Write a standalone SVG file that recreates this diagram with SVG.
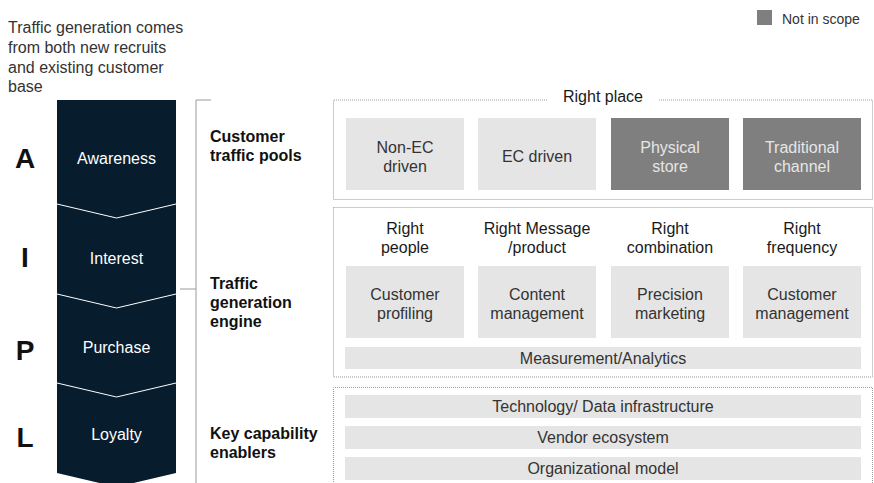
<svg xmlns="http://www.w3.org/2000/svg" width="874" height="483" viewBox="0 0 874 483">
<style>
text{font-family:"Liberation Sans",Arial,sans-serif;font-size:16px}
.note{fill:#333}
.big{font-size:28px;font-weight:bold;fill:#111;text-anchor:middle}
.stage{fill:#fff;text-anchor:middle}
.sec{font-weight:bold;fill:#111}
.frame{fill:none;stroke:#9a9a9a;stroke-width:1;stroke-dasharray:1 1}
.lt{fill:#e5e5e5}
.dk{fill:#7f7f7f}
.lt-t{fill:#333;text-anchor:middle}
.dk-t{fill:#e6e6e6;text-anchor:middle}
.hd{fill:#1a1a1a;text-anchor:middle}
.br{fill:none;stroke:#9a9a9a;stroke-width:1}
</style>

<g id="legend">
<rect x="757" y="10" width="15" height="15" class="dk"/>
<text x="782" y="24" class="note" style="font-size:14px">Not in scope</text>
</g>

<g id="intro">
<text x="8" y="33" class="note">Traffic generation comes</text>
<text x="8" y="53" class="note">from both new recruits</text>
<text x="8" y="72.5" class="note">and existing customer</text>
<text x="8" y="92" class="note">base</text>
</g>

<g id="funnel">
<polygon points="57,100 176,100 176,473 116.5,487 57,473" fill="#071c2d"/>
<polyline points="57,204 116.5,218 176,204" fill="none" stroke="#fff" stroke-width="1"/>
<polyline points="57,294 116.5,308 176,294" fill="none" stroke="#fff" stroke-width="1"/>
<polyline points="57,383 116.5,397 176,383" fill="none" stroke="#fff" stroke-width="1"/>
</g>

<g id="stage-awareness">
<text x="25" y="168" class="big">A</text>
<text x="116.5" y="164" class="stage">Awareness</text>
</g>
<g id="stage-interest">
<text x="25" y="267" class="big">I</text>
<text x="116.5" y="264" class="stage">Interest</text>
</g>
<g id="stage-purchase">
<text x="25" y="360" class="big">P</text>
<text x="116.5" y="353" class="stage">Purchase</text>
</g>
<g id="stage-loyalty">
<text x="25" y="447" class="big">L</text>
<text x="116.5" y="440" class="stage">Loyalty</text>
</g>

<g id="connectors">
<polyline points="211,100 196,100 196,483" class="br"/>
<line x1="180" y1="289" x2="196" y2="289" class="br"/>
</g>

<g id="label-pools">
<text x="210" y="142" class="sec">Customer</text>
<text x="210" y="161" class="sec">traffic pools</text>
</g>
<g id="label-engine">
<text x="210" y="288.5" class="sec">Traffic</text>
<text x="210" y="307.5" class="sec">generation</text>
<text x="210" y="326.5" class="sec">engine</text>
</g>
<g id="label-enablers">
<text x="210" y="439" class="sec">Key capability</text>
<text x="210" y="458" class="sec">enablers</text>
</g>

<g id="right-place">
<path d="M547,100 H333.5 V199.5 H872.5 V100 H658" class="frame"/>
<text x="603" y="102" class="hd">Right place</text>
</g>
<g id="non-ec">
<rect x="346" y="118" width="118" height="72" class="lt"/>
<text x="405" y="152.5" class="lt-t">Non-EC</text>
<text x="405" y="171.5" class="lt-t">driven</text>
</g>
<g id="ec-driven">
<rect x="478" y="118" width="118" height="72" class="lt"/>
<text x="537" y="162" class="lt-t">EC driven</text>
</g>
<g id="physical-store">
<rect x="611" y="118" width="118" height="72" class="dk"/>
<text x="670" y="152.5" class="dk-t">Physical</text>
<text x="670" y="171.5" class="dk-t">store</text>
</g>
<g id="traditional-channel">
<rect x="743" y="118" width="118" height="72" class="dk"/>
<text x="802" y="152.5" class="dk-t">Traditional</text>
<text x="802" y="171.5" class="dk-t">channel</text>
</g>

<g id="engine-frame">
<rect x="333.5" y="207.5" width="539" height="169.5" class="frame"/>
</g>
<g id="customer-profiling">
<text x="405" y="234" class="hd">Right</text>
<text x="405" y="253" class="hd">people</text>
<rect x="346" y="266" width="118" height="72" class="lt"/>
<text x="405" y="300" class="lt-t">Customer</text>
<text x="405" y="319" class="lt-t">profiling</text>
</g>
<g id="content-management">
<text x="537" y="234" class="hd">Right Message</text>
<text x="537" y="253" class="hd">/product</text>
<rect x="478" y="266" width="118" height="72" class="lt"/>
<text x="537" y="300" class="lt-t">Content</text>
<text x="537" y="319" class="lt-t">management</text>
</g>
<g id="precision-marketing">
<text x="670" y="234" class="hd">Right</text>
<text x="670" y="253" class="hd">combination</text>
<rect x="611" y="266" width="118" height="72" class="lt"/>
<text x="670" y="300" class="lt-t">Precision</text>
<text x="670" y="319" class="lt-t">marketing</text>
</g>
<g id="customer-management">
<text x="802" y="234" class="hd">Right</text>
<text x="802" y="253" class="hd">frequency</text>
<rect x="743" y="266" width="118" height="72" class="lt"/>
<text x="802" y="300" class="lt-t">Customer</text>
<text x="802" y="319" class="lt-t">management</text>
</g>
<g id="measurement">
<rect x="345" y="347" width="516" height="22" class="lt"/>
<text x="603" y="363.5" class="lt-t">Measurement/Analytics</text>
</g>

<g id="enablers-frame">
<path d="M333.5,490 V387.5 H872.5 V490" class="frame"/>
</g>
<g id="technology">
<rect x="345" y="395" width="516" height="23" class="lt"/>
<text x="603" y="412" class="lt-t">Technology/ Data infrastructure</text>
</g>
<g id="vendor">
<rect x="345" y="426" width="516" height="23" class="lt"/>
<text x="603" y="443" class="lt-t">Vendor ecosystem</text>
</g>
<g id="organizational">
<rect x="345" y="457" width="516" height="23" class="lt"/>
<text x="603" y="474" class="lt-t">Organizational model</text>
</g>
</svg>
